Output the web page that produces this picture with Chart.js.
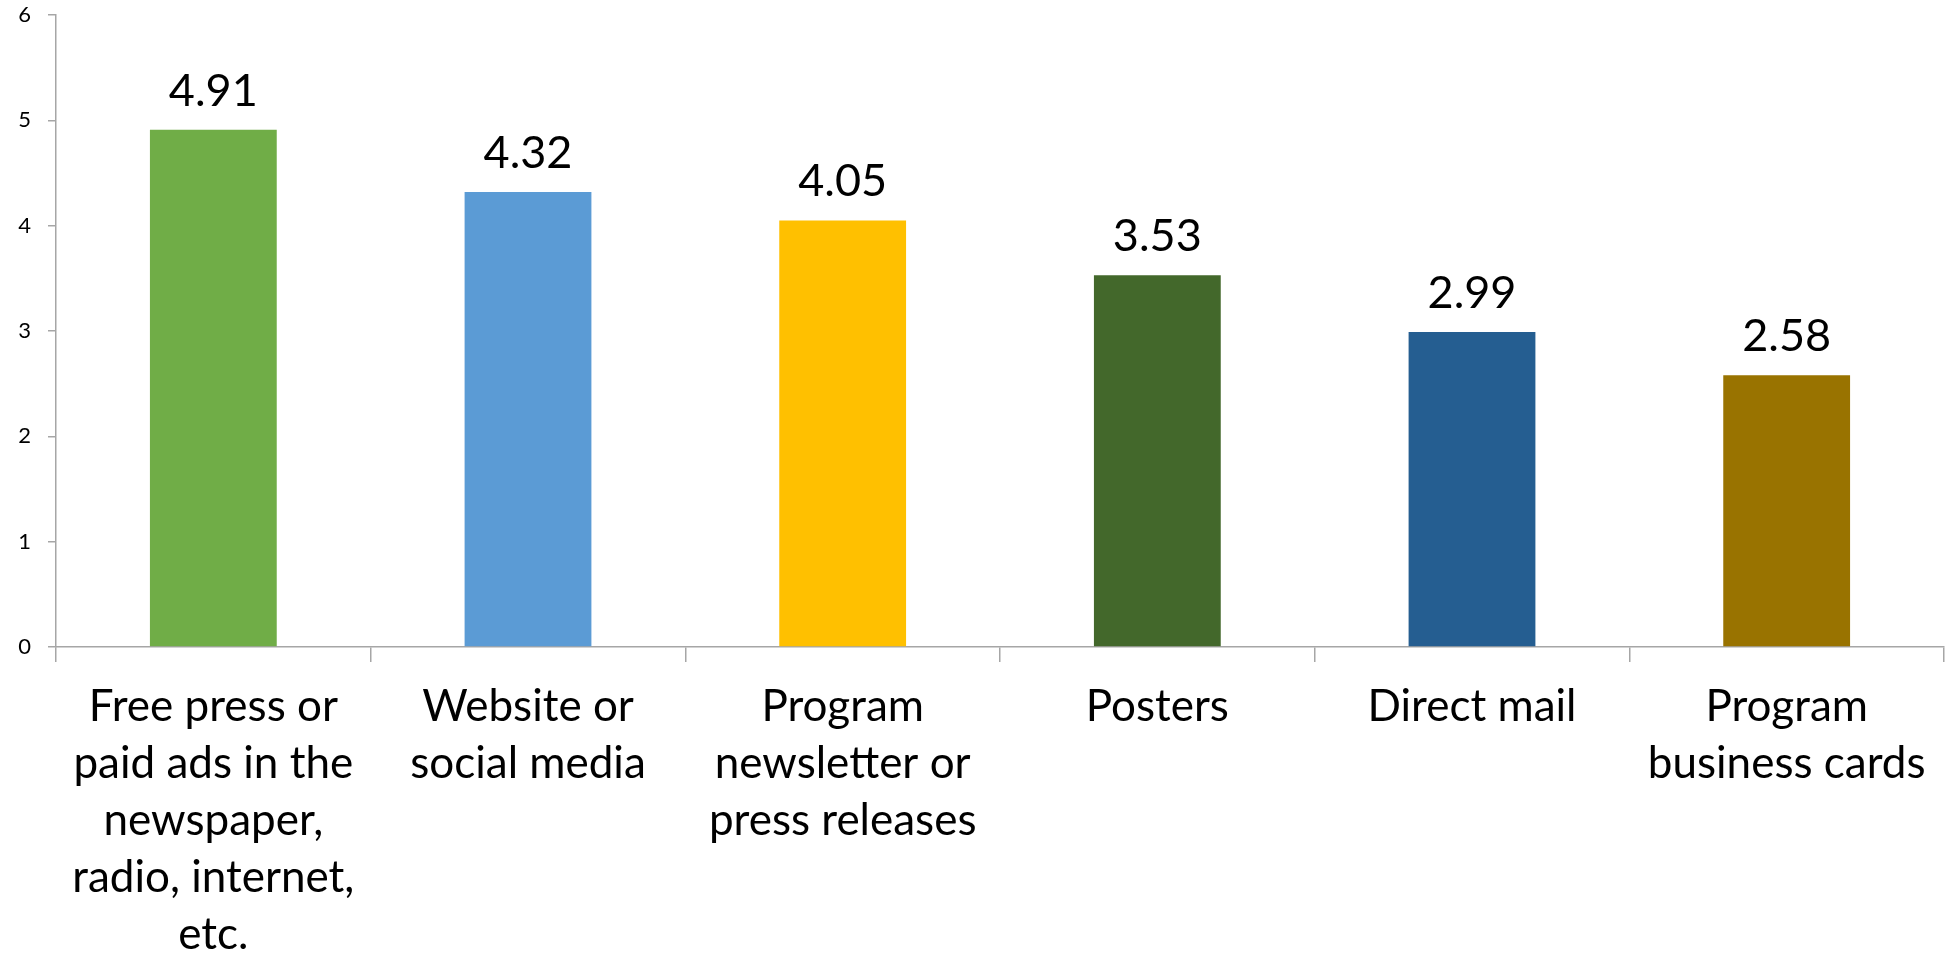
<!DOCTYPE html>
<html>
<head>
<meta charset="utf-8">
<script src="https://cdn.jsdelivr.net/npm/chart.js@4.4.0/dist/chart.umd.min.js"></script>
<style>
  html, body { margin: 0; padding: 0; background: #ffffff; }
  #wrap { width: 1946px; height: 963px; position: relative; }
</style>
</head>
<body>
<div id="wrap"><canvas id="chart" width="1946" height="963"></canvas></div>
<script>
// Average rating by outreach channel
const categories = [
  ["Free press or", "paid ads in the", "newspaper,", "radio, internet,", "etc."],
  ["Website or", "social media"],
  ["Program", "newsletter or", "press releases"],
  ["Posters"],
  ["Direct mail"],
  ["Program", "business cards"]
];
const ratings = [4.91, 4.32, 4.05, 3.53, 2.99, 2.58];
const barColors = ["#70AD47", "#5B9BD5", "#FFC000", "#43682B", "#255E91", "#997300"];
const yTicks = [0, 1, 2, 3, 4, 5, 6];

const axisGray = "#A6A6A6";
const FONT = "Lato, 'Open Sans', sans-serif";

// Writes each bar's value above it
const valueLabels = {
  id: "valueLabels",
  afterDatasetsDraw(chart) {
    const ctx = chart.ctx;
    const meta = chart.getDatasetMeta(0);
    ctx.save();
    ctx.font = "45px " + FONT;
    ctx.fillStyle = "#000000";
    ctx.textAlign = "center";
    ctx.textBaseline = "alphabetic";
    meta.data.forEach((bar, i) => {
      ctx.fillText(ratings[i].toFixed(2), bar.x, bar.y - 24);
    });
    ctx.restore();
  }
};

new Chart(document.getElementById("chart"), {
  type: "bar",
  data: {
    labels: categories,
    datasets: [{
      data: ratings,
      backgroundColor: barColors,
      borderWidth: 0,
      categoryPercentage: 1,
      barPercentage: 0.403
    }]
  },
  options: {
    responsive: false,
    animation: false,
    layout: { padding: { top: 15, right: 2, left: 0, bottom: 0 } },
    plugins: {
      legend: { display: false },
      tooltip: { enabled: false }
    },
    scales: {
      x: {
        grid: {
          offset: true,
          drawOnChartArea: false,
          drawTicks: true,
          tickLength: 15,
          color: axisGray,
          lineWidth: 1.5
        },
        border: { color: axisGray, width: 1.5 },
        ticks: {
          color: "#000000",
          font: { family: FONT, size: 44, lineHeight: 1.295 },
          padding: 16,
          maxRotation: 0,
          autoSkip: false
        },
        afterFit(scale) { scale.height = 316; }
      },
      y: {
        min: 0,
        max: 6,
        afterBuildTicks(scale) { scale.ticks = yTicks.map(v => ({ value: v })); },
        grid: {
          drawOnChartArea: false,
          drawTicks: true,
          tickLength: 8,
          color: axisGray,
          lineWidth: 1.5
        },
        border: { color: axisGray, width: 1.5 },
        ticks: {
          color: "#000000",
          font: { family: FONT, size: 22 },
          padding: 17
        },
        afterFit(scale) {
          scale.width = 56;
          scale.paddingTop = 0;
          scale.paddingBottom = 0;
        }
      }
    }
  },
  plugins: [valueLabels]
});
</script>
</body>
</html>
